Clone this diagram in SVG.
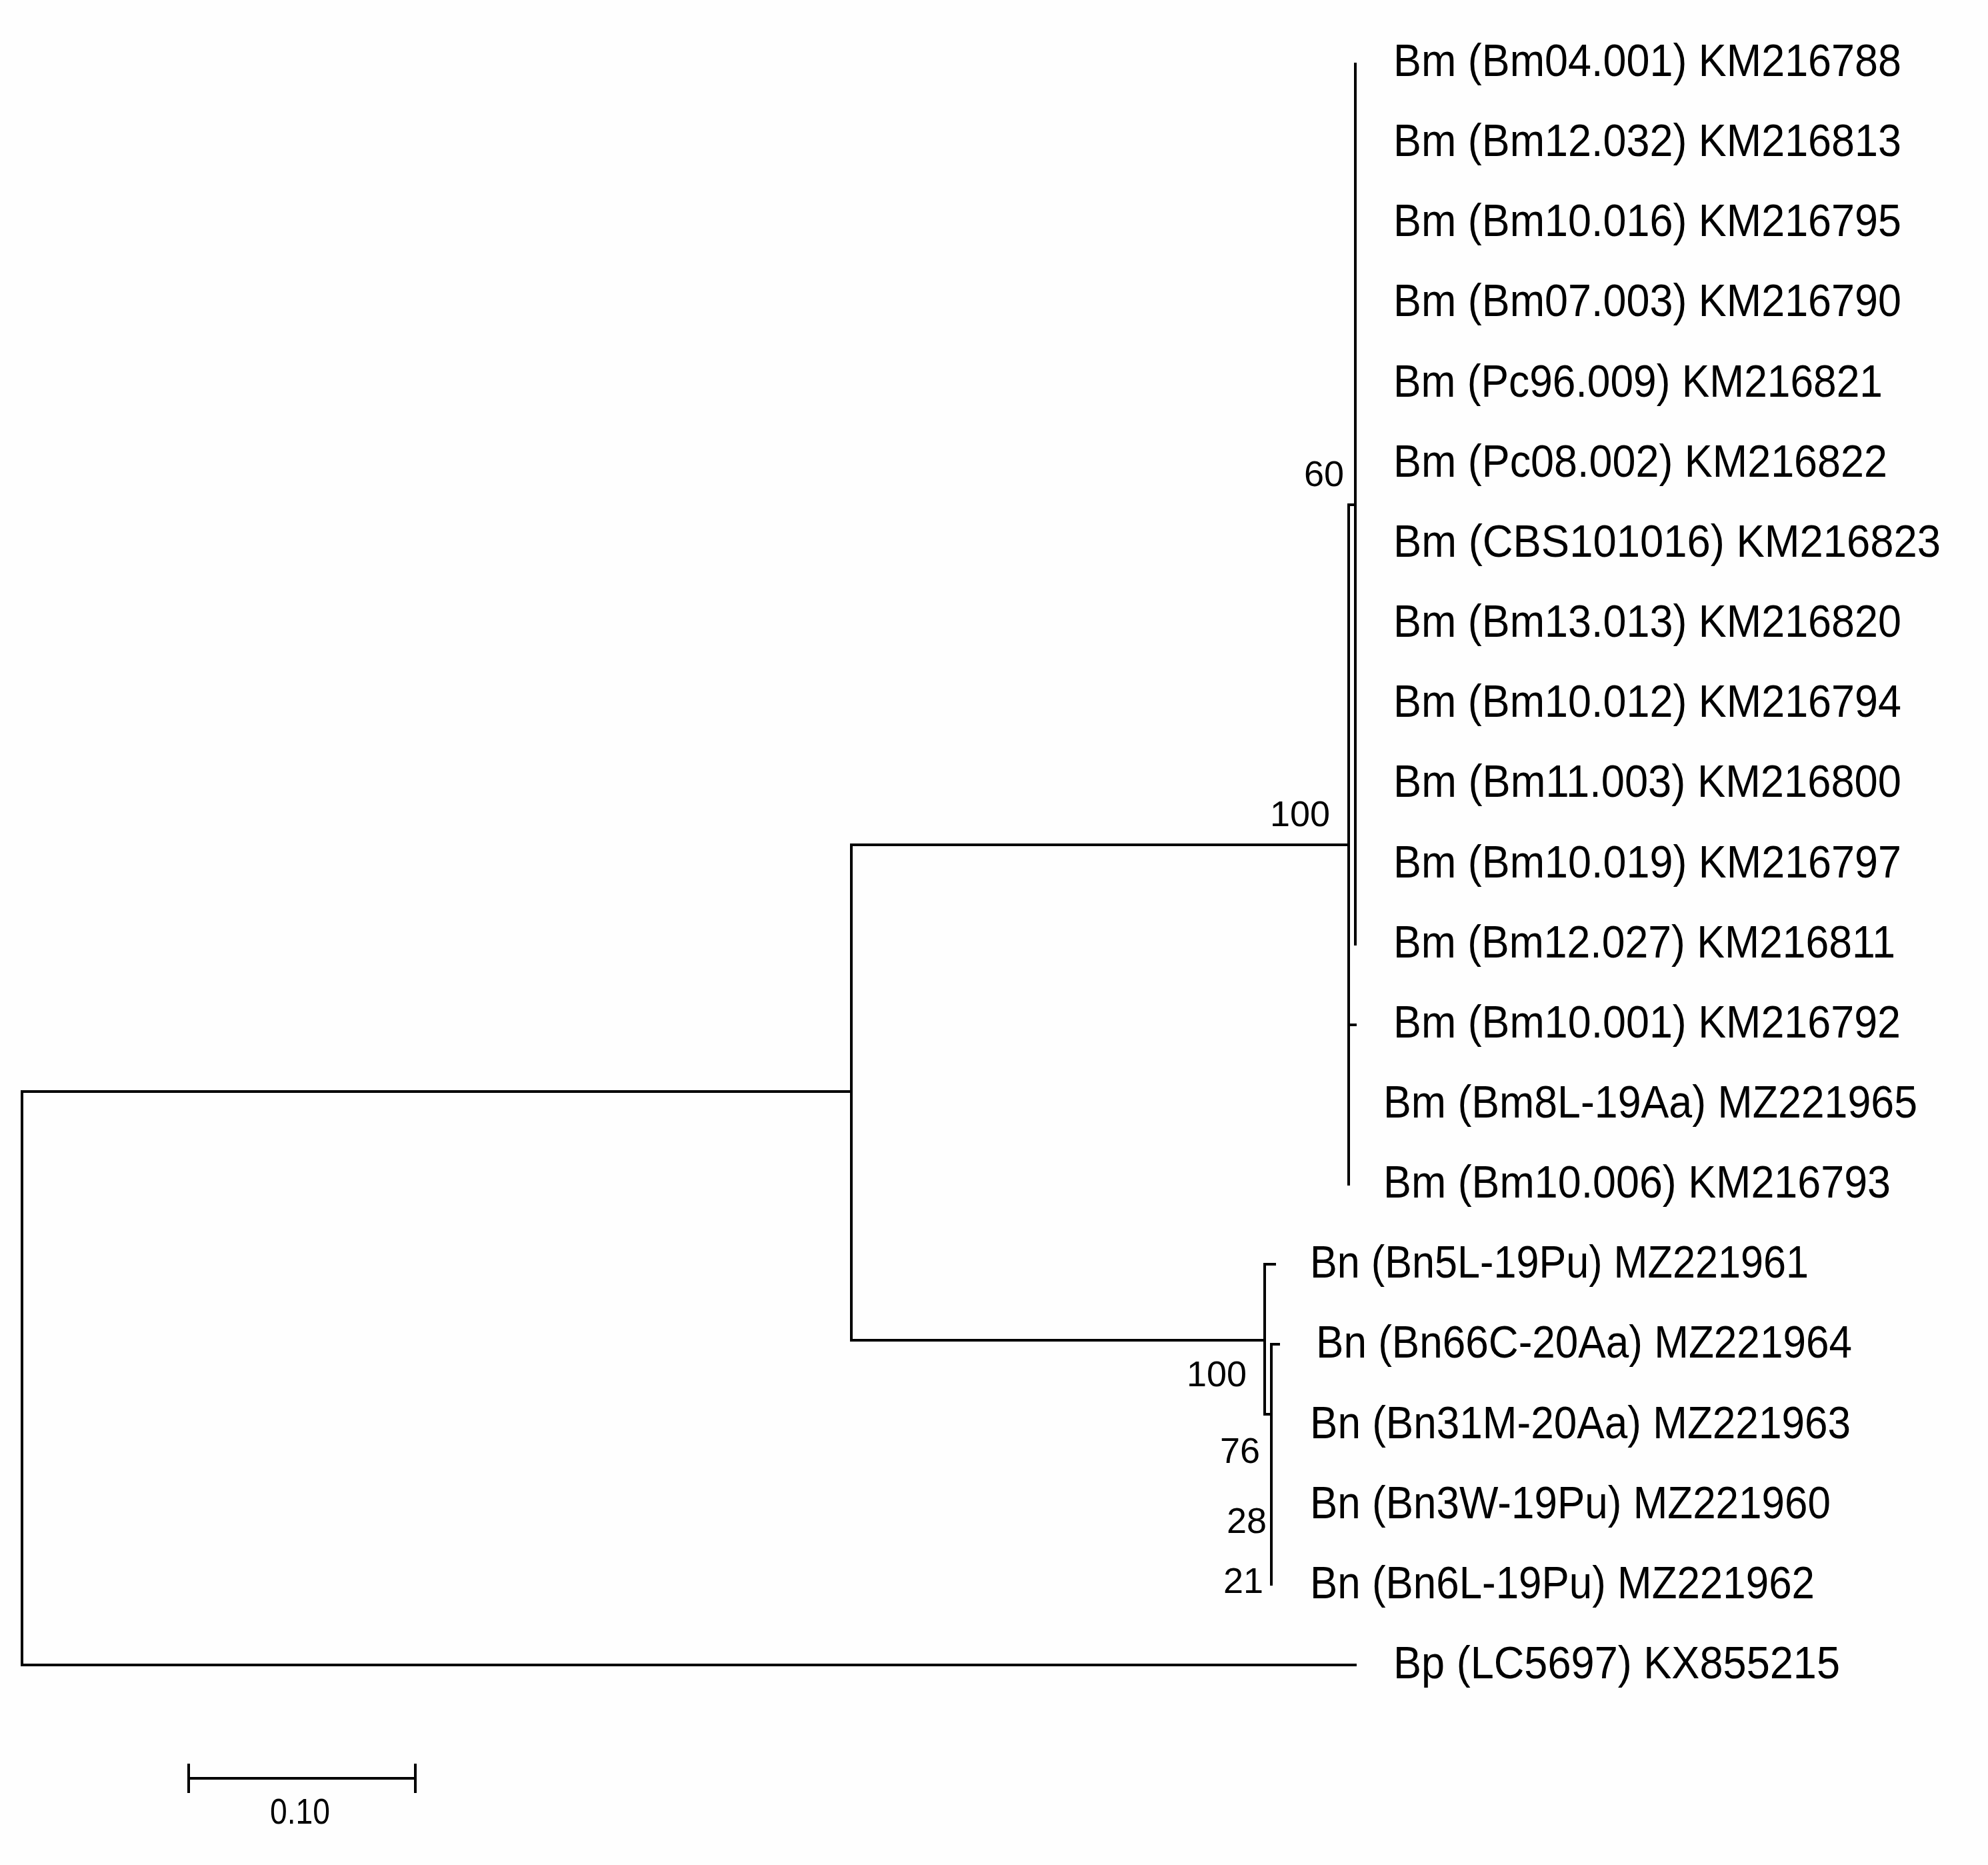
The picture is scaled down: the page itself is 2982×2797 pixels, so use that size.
<svg xmlns="http://www.w3.org/2000/svg" width="2982" height="2797" viewBox="0 0 2982 2797">
<style>
.br{fill:none;stroke:#000;stroke-width:4;stroke-linejoin:miter;stroke-linecap:butt}
.lb{font-family:"Liberation Sans",Arial,sans-serif;font-size:68px;fill:#000}
.bs{font-family:"Liberation Sans",Arial,sans-serif;font-size:54px;fill:#000;text-anchor:end}
</style>
<rect width="2982" height="2797" fill="#fefefe"/>
<g id="connectors">
<path class="br" d="M1277,1637 H33 V2497 H2035"/>
<path class="br" d="M2023,1267 H1277 V2010 H1897"/>
<path class="br" d="M2033,757 H2023 V1778"/>
<path class="br" d="M2033,94 V1418"/>
<path class="br" d="M2023,1537 H2035"/>
<path class="br" d="M1914,1896 H1897 V2121 H1907"/>
<path class="br" d="M1920,2016 H1907 V2378"/>
</g>
<g id="leaf-1"><text class="lb" x="2090" y="114" textLength="762" lengthAdjust="spacingAndGlyphs">Bm (Bm04.001) KM216788</text></g>
<g id="leaf-2"><text class="lb" x="2090" y="234" textLength="762" lengthAdjust="spacingAndGlyphs">Bm (Bm12.032) KM216813</text></g>
<g id="leaf-3"><text class="lb" x="2090" y="354" textLength="762" lengthAdjust="spacingAndGlyphs">Bm (Bm10.016) KM216795</text></g>
<g id="leaf-4"><text class="lb" x="2090" y="474" textLength="762" lengthAdjust="spacingAndGlyphs">Bm (Bm07.003) KM216790</text></g>
<g id="leaf-5"><text class="lb" x="2090" y="595" textLength="734" lengthAdjust="spacingAndGlyphs">Bm (Pc96.009) KM216821</text></g>
<g id="leaf-6"><text class="lb" x="2090" y="715" textLength="741" lengthAdjust="spacingAndGlyphs">Bm (Pc08.002) KM216822</text></g>
<g id="leaf-7"><text class="lb" x="2090" y="835" textLength="821" lengthAdjust="spacingAndGlyphs">Bm (CBS101016) KM216823</text></g>
<g id="leaf-8"><text class="lb" x="2090" y="955" textLength="762" lengthAdjust="spacingAndGlyphs">Bm (Bm13.013) KM216820</text></g>
<g id="leaf-9"><text class="lb" x="2090" y="1075" textLength="762" lengthAdjust="spacingAndGlyphs">Bm (Bm10.012) KM216794</text></g>
<g id="leaf-10"><text class="lb" x="2090" y="1195" textLength="762" lengthAdjust="spacingAndGlyphs">Bm (Bm11.003) KM216800</text></g>
<g id="leaf-11"><text class="lb" x="2090" y="1316" textLength="762" lengthAdjust="spacingAndGlyphs">Bm (Bm10.019) KM216797</text></g>
<g id="leaf-12"><text class="lb" x="2090" y="1436" textLength="753" lengthAdjust="spacingAndGlyphs">Bm (Bm12.027) KM216811</text></g>
<g id="leaf-13"><text class="lb" x="2090" y="1556" textLength="761" lengthAdjust="spacingAndGlyphs">Bm (Bm10.001) KM216792</text></g>
<g id="leaf-14"><text class="lb" x="2075" y="1676" textLength="801" lengthAdjust="spacingAndGlyphs">Bm (Bm8L-19Aa) MZ221965</text></g>
<g id="leaf-15"><text class="lb" x="2075" y="1796" textLength="761" lengthAdjust="spacingAndGlyphs">Bm (Bm10.006) KM216793</text></g>
<g id="leaf-16"><text class="lb" x="1965" y="1916" textLength="748" lengthAdjust="spacingAndGlyphs">Bn (Bn5L-19Pu) MZ221961</text></g>
<g id="leaf-17"><text class="lb" x="1974" y="2036" textLength="804" lengthAdjust="spacingAndGlyphs">Bn (Bn66C-20Aa) MZ221964</text></g>
<g id="leaf-18"><text class="lb" x="1965" y="2157" textLength="811" lengthAdjust="spacingAndGlyphs">Bn (Bn31M-20Aa) MZ221963</text></g>
<g id="leaf-19"><text class="lb" x="1965" y="2277" textLength="781" lengthAdjust="spacingAndGlyphs">Bn (Bn3W-19Pu) MZ221960</text></g>
<g id="leaf-20"><text class="lb" x="1965" y="2397" textLength="757" lengthAdjust="spacingAndGlyphs">Bn (Bn6L-19Pu) MZ221962</text></g>
<g id="leaf-21"><text class="lb" x="2090" y="2517" textLength="670" lengthAdjust="spacingAndGlyphs">Bp (LC5697) KX855215</text></g>
<g id="node-bootstrap-60"><text class="bs" x="2016" y="729">60</text></g>
<g id="node-bootstrap-100-bm"><text class="bs" x="1995" y="1239">100</text></g>
<g id="node-bootstrap-100-bn"><text class="bs" x="1870" y="2079">100</text></g>
<g id="node-bootstrap-76"><text class="bs" x="1890" y="2194">76</text></g>
<g id="node-bootstrap-28"><text class="bs" x="1900" y="2299">28</text></g>
<g id="node-bootstrap-21"><text class="bs" x="1895" y="2389">21</text></g>
<g id="scale-bar">
<path class="br" d="M283,2667 H623 M283,2645 V2689 M623,2645 V2689"/>
<text class="bs" x="495" y="2735" textLength="90" lengthAdjust="spacingAndGlyphs">0.10</text>
</g>
</svg>
